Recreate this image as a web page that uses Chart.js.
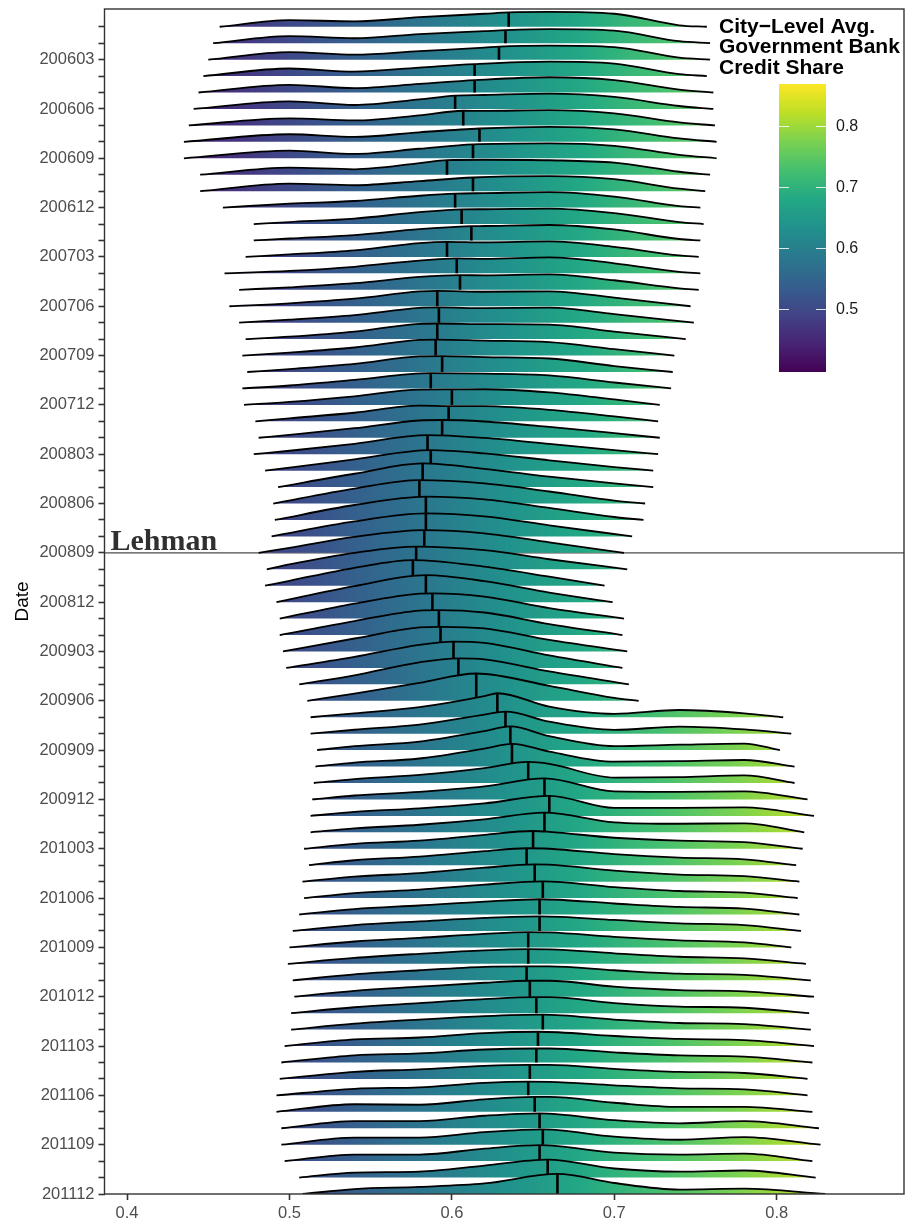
<!DOCTYPE html>
<html>
<head>
<meta charset="utf-8">
<script src="https://cdn.jsdelivr.net/npm/chart.js@4.4.1/dist/chart.umd.min.js"></script>
<style>
  html, body { margin: 0; padding: 0; background: #fff; }
  #wrap { width: 905px; height: 1220px; position: relative; }
</style>
</head>
<body>
<div id="wrap"><canvas id="ridges"></canvas></div>
<script>
// months, top to bottom
const months = [
  '200601','200602','200603','200604','200605','200606','200607','200608','200609','200610','200611','200612',
  '200701','200702','200703','200704','200705','200706','200707','200708','200709','200710','200711','200712',
  '200801','200802','200803','200804','200805','200806','200807','200808','200809','200810','200811','200812',
  '200901','200902','200903','200904','200905','200906','200907','200908','200909','200910','200911','200912',
  '201001','201002','201003','201004','201005','201006','201007','201008','201009','201010','201011','201012',
  '201101','201102','201103','201104','201105','201106','201107','201108','201109','201110','201111','201112'
];
const labelledMonths = [
  '200603','200606','200609','200612','200703','200706','200709','200712','200803','200806','200809','200812',
  '200903','200906','200909','200912','201003','201006','201009','201012','201103','201106','201109','201112'
];
const xTicks = [0.4, 0.5, 0.6, 0.7, 0.8];
const legendTicks = [0.5, 0.6, 0.7, 0.8];
const lehmanMonth = '200809';

// where each density starts and ends
const lowEnd = [
  0.457, 0.453, 0.450, 0.447, 0.444, 0.441, 0.438, 0.435, 0.435, 0.445, 0.445, 0.459,
  0.478, 0.478, 0.473, 0.460, 0.469, 0.463, 0.469, 0.473, 0.471, 0.474, 0.471, 0.472,
  0.479, 0.481, 0.478, 0.485, 0.493, 0.490, 0.491, 0.489, 0.481, 0.486, 0.485, 0.492,
  0.494, 0.494, 0.496, 0.498, 0.506, 0.511, 0.513, 0.513, 0.517, 0.516, 0.515, 0.514,
  0.513, 0.513, 0.509, 0.512, 0.508, 0.509, 0.506, 0.502, 0.500, 0.499, 0.502, 0.503,
  0.501, 0.501, 0.497, 0.495, 0.494, 0.492, 0.492, 0.495, 0.495, 0.497, 0.506, 0.508
];
const highEnd = [
  0.757, 0.759, 0.759, 0.757, 0.761, 0.761, 0.762, 0.763, 0.763, 0.759, 0.756, 0.753,
  0.755, 0.753, 0.752, 0.753, 0.752, 0.747, 0.749, 0.744, 0.737, 0.736, 0.735, 0.728,
  0.727, 0.728, 0.727, 0.724, 0.724, 0.719, 0.718, 0.711, 0.706, 0.708, 0.694, 0.699,
  0.706, 0.705, 0.708, 0.705, 0.709, 0.715, 0.804, 0.809, 0.802, 0.811, 0.811, 0.819,
  0.823, 0.817, 0.816, 0.812, 0.814, 0.813, 0.814, 0.815, 0.809, 0.818, 0.821, 0.823,
  0.820, 0.821, 0.823, 0.822, 0.819, 0.819, 0.822, 0.826, 0.827, 0.822, 0.824, 0.830
];
// median of each month and the density height there (in ridge spacings)
const medianX = [
  0.635, 0.633, 0.629, 0.614, 0.614, 0.602, 0.607, 0.617, 0.613, 0.597, 0.613, 0.602,
  0.606, 0.612, 0.597, 0.603, 0.605, 0.591, 0.592, 0.591, 0.590, 0.594, 0.587, 0.600,
  0.598, 0.594, 0.585, 0.587, 0.582, 0.580, 0.584, 0.584, 0.583, 0.578, 0.576, 0.584,
  0.588, 0.592, 0.593, 0.601, 0.604, 0.615, 0.628, 0.633, 0.636, 0.637, 0.647, 0.657,
  0.660, 0.657, 0.650, 0.646, 0.651, 0.656, 0.654, 0.654, 0.647, 0.647, 0.646, 0.648,
  0.652, 0.656, 0.653, 0.652, 0.648, 0.647, 0.651, 0.654, 0.656, 0.654, 0.659, 0.665
];
const medianHeight = [
  0.87, 0.79, 0.79, 0.73, 0.75, 0.81, 0.89, 0.81, 0.85, 0.89, 0.83, 0.85,
  0.89, 0.87, 0.92, 0.91, 0.89, 0.94, 0.93, 0.95, 0.97, 0.97, 0.93, 0.94,
  0.93, 1.08, 1.16, 1.25, 1.44, 1.42, 1.42, 1.40, 1.38, 1.38, 1.56, 1.64,
  1.54, 1.52, 1.50, 1.60, 1.58, 1.66, 1.46, 1.34, 1.44, 1.38, 1.28, 1.28,
  1.22, 1.20, 1.08, 1.03, 1.05, 1.02, 0.93, 0.89, 0.93, 0.89, 0.85, 0.97,
  0.97, 0.91, 0.87, 0.85, 0.85, 0.83, 0.91, 0.91, 0.93, 0.97, 1.09, 1.22
];

// density heights read at these shares (null = outside that month's range)
const gridX = [0.50, 0.54, 0.58, 0.62, 0.66, 0.70, 0.74, 0.78];
const densityAtGrid = [
  [0.40, 0.33, 0.58, 0.79, 0.90, 0.79, 0.09, null], // 200601
  [0.43, 0.30, 0.55, 0.73, 0.85, 0.76, 0.12, null],
  [0.46, 0.30, 0.52, 0.73, 0.85, 0.76, 0.12, null],
  [0.46, 0.27, 0.52, 0.70, 0.88, 0.76, 0.12, null],
  [0.46, 0.27, 0.52, 0.76, 0.93, 0.76, 0.18, null],
  [0.46, 0.24, 0.58, 0.85, 0.93, 0.73, 0.18, null],
  [0.43, 0.30, 0.61, 0.88, 0.93, 0.73, 0.18, null],
  [0.46, 0.30, 0.58, 0.82, 0.91, 0.76, 0.21, null],
  [0.46, 0.27, 0.58, 0.85, 0.91, 0.76, 0.21, null],
  [0.43, 0.33, 0.70, 0.91, 0.88, 0.73, 0.18, null],
  [0.46, 0.36, 0.61, 0.85, 0.91, 0.73, 0.15, null],
  [0.24, 0.40, 0.72, 0.88, 0.94, 0.67, 0.09, null], // 200612
  [0.12, 0.33, 0.72, 0.90, 0.94, 0.67, 0.12, null],
  [0.12, 0.33, 0.69, 0.88, 0.94, 0.67, 0.09, null],
  [0.15, 0.40, 0.84, 0.88, 0.94, 0.61, 0.09, null],
  [0.15, 0.40, 0.78, 0.88, 0.97, 0.61, 0.09, null],
  [0.15, 0.40, 0.78, 0.88, 0.94, 0.58, 0.09, null],
  [0.18, 0.46, 0.90, 0.88, 0.91, 0.52, 0.06, null],
  [0.18, 0.46, 0.90, 0.88, 0.91, 0.52, 0.06, null],
  [0.15, 0.46, 0.93, 0.91, 0.88, 0.46, null, null],
  [0.18, 0.49, 0.95, 0.91, 0.82, 0.39, null, null],
  [0.18, 0.49, 0.95, 0.91, 0.82, 0.36, null, null],
  [0.18, 0.52, 0.95, 0.90, 0.79, 0.36, null, null],
  [0.18, 0.52, 0.93, 0.95, 0.76, 0.33, null, null], // 200712
  [0.18, 0.52, 0.95, 0.92, 0.70, 0.30, null, null],
  [0.18, 0.58, 1.05, 0.99, 0.66, 0.28, null, null],
  [0.21, 0.63, 1.14, 0.99, 0.63, 0.25, null, null],
  [0.18, 0.69, 1.23, 1.05, 0.63, 0.22, null, null],
  [0.18, 0.81, 1.40, 1.11, 0.63, 0.22, null, null],
  [0.24, 0.91, 1.40, 1.22, 0.73, 0.18, null, null],
  [0.24, 0.91, 1.40, 1.25, 0.73, 0.18, null, null],
  [0.24, 0.91, 1.40, 1.22, 0.67, 0.12, null, null],
  [0.30, 0.97, 1.37, 1.19, 0.64, null, null, null], // 200809
  [0.30, 1.00, 1.37, 1.16, 0.61, 0.09, null, null],
  [0.30, 1.09, 1.55, 1.16, 0.55, null, null, null],
  [0.24, 0.97, 1.61, 1.28, 0.58, null, null, null],
  [0.21, 0.91, 1.52, 1.34, 0.64, null, null, null],
  [0.18, 0.85, 1.49, 1.37, 0.67, null, null, null],
  [0.15, 0.79, 1.46, 1.40, 0.70, 0.09, null, null],
  [0.12, 0.67, 1.40, 1.52, 0.76, null, null, null],
  [null, 0.55, 1.34, 1.52, 0.79, 0.12, null, null],
  [null, 0.43, 1.09, 1.58, 0.91, 0.18, null, null], // 200906
  [null, 0.24, 0.61, 1.28, 0.64, 0.20, 0.44, 0.24],
  [null, 0.24, 0.55, 1.16, 0.73, 0.23, 0.43, 0.26],
  [null, 0.24, 0.52, 1.16, 0.85, 0.24, 0.33, 0.40],
  [null, 0.24, 0.49, 1.09, 0.91, 0.30, 0.33, 0.40],
  [null, 0.24, 0.49, 0.91, 1.16, 0.33, 0.36, 0.46],
  [null, 0.24, 0.46, 0.79, 1.19, 0.49, 0.46, 0.49], // 200912
  [null, 0.24, 0.46, 0.76, 1.19, 0.49, 0.49, 0.52],
  [null, 0.24, 0.46, 0.79, 1.16, 0.61, 0.52, 0.55],
  [null, 0.30, 0.49, 0.85, 1.03, 0.67, 0.49, 0.40],
  [null, 0.30, 0.52, 0.85, 1.00, 0.67, 0.46, 0.36],
  [null, 0.30, 0.52, 0.85, 1.03, 0.67, 0.43, 0.33],
  [null, 0.30, 0.52, 0.82, 1.00, 0.67, 0.43, 0.33],
  [null, 0.33, 0.55, 0.79, 0.91, 0.67, 0.46, 0.36],
  [null, 0.36, 0.58, 0.79, 0.88, 0.67, 0.46, 0.36],
  [null, 0.36, 0.58, 0.82, 0.91, 0.64, 0.43, 0.30],
  [null, 0.36, 0.61, 0.82, 0.88, 0.64, 0.43, 0.33],
  [null, 0.36, 0.61, 0.82, 0.85, 0.61, 0.40, 0.33],
  [null, 0.36, 0.61, 0.85, 0.97, 0.61, 0.40, 0.33], // 201012
  [null, 0.36, 0.61, 0.85, 0.97, 0.61, 0.40, 0.33],
  [null, 0.36, 0.61, 0.82, 0.91, 0.61, 0.40, 0.33],
  [null, 0.40, 0.52, 0.79, 0.87, 0.61, 0.43, 0.36],
  [null, 0.43, 0.55, 0.79, 0.85, 0.61, 0.43, 0.36],
  [null, 0.43, 0.58, 0.79, 0.85, 0.61, 0.43, 0.36],
  [null, 0.40, 0.49, 0.76, 0.82, 0.61, 0.43, 0.36],
  [null, 0.46, 0.43, 0.76, 0.91, 0.55, 0.30, 0.30],
  [null, 0.43, 0.43, 0.76, 0.91, 0.49, 0.30, 0.43],
  [null, 0.43, 0.43, 0.76, 0.91, 0.49, 0.30, 0.46],
  [null, 0.40, 0.40, 0.76, 0.97, 0.52, 0.40, 0.46],
  [null, 0.30, 0.36, 0.73, 1.06, 0.55, 0.36, 0.43],
  [null, 0.30, 0.43, 0.64, 1.16, 0.67, 0.27, 0.33]  // 201112
];

// viridis colour scale limits
const colorMin = 0.397;
const colorMax = 0.869;
const viridis = ['#440154', '#482475', '#414487', '#355f8d', '#2a788e', '#21918c',
                 '#22a884', '#44bf70', '#7ad151', '#bddf26', '#fde725'];

const xMin = 0.3861, xMax = 0.8784;
const nMonths = months.length;
const yTop = 72.08;
const sans = 'Arial, "Liberation Sans", sans-serif';

let gradCache = null;
function viridisFill(context) {
  const chart = context.chart;
  const area = chart.chartArea;
  if (!area || !chart.scales.x) return 'rgba(0,0,0,0)';
  const xs = chart.scales.x;
  const key = area.left + ':' + area.right;
  if (!gradCache || gradCache.key !== key) {
    const g = chart.ctx.createLinearGradient(xs.getPixelForValue(colorMin), 0, xs.getPixelForValue(colorMax), 0);
    viridis.forEach((c, i) => g.addColorStop(i / (viridis.length - 1), c));
    gradCache = {key: key, grad: g};
  }
  return gradCache.grad;
}

const datasets = [];
months.forEach((month, m) => {
  const base = nMonths - 1 - m;
  const lo = lowEnd[m], hi = highEnd[m], med = medianX[m];
  const pts = [{x: lo, y: base}];
  gridX.forEach((gx, k) => {
    const h = densityAtGrid[m][k];
    if (h === null) return;
    if (gx < lo + 0.012 || gx > hi - 0.012) return;
    if (Math.abs(gx - med) < 0.008) return;
    pts.push({x: gx, y: base + h});
  });
  pts.push({x: med, y: base + medianHeight[m]});
  pts.push({x: hi, y: base});
  pts.sort((a, b) => a.x - b.x);

  // median line first so it is painted on top of its own ridge
  datasets.push({
    label: month + ' median',
    data: [{x: med, y: base}, {x: med, y: base + medianHeight[m]}],
    borderColor: '#000',
    borderWidth: 2.6,
    borderCapStyle: 'butt',
    pointRadius: 0,
    fill: false,
    order: base
  });
  datasets.push({
    label: month,
    data: pts,
    borderColor: '#000',
    borderWidth: 1.8,
    pointRadius: 0,
    cubicInterpolationMode: 'monotone',
    fill: {value: base},
    backgroundColor: viridisFill,
    order: base
  });
});

const lehmanY = nMonths - 1 - months.indexOf(lehmanMonth);
datasets.push({
  label: 'Lehman',
  data: [{x: xMin, y: lehmanY}, {x: xMax, y: lehmanY}],
  borderColor: '#4d4d4d',
  borderWidth: 1.2,
  pointRadius: 0,
  fill: false,
  order: 1000
});

const decorPlugin = {
  id: 'decor',
  afterDatasetsDraw(chart) {
    const ctx = chart.ctx;
    const a = chart.chartArea;
    const ys = chart.scales.y;
    ctx.save();
    // Lehman label
    ctx.fillStyle = '#303030';
    ctx.font = 'bold 30px "Liberation Serif", "Times New Roman", serif';
    ctx.textAlign = 'left';
    ctx.textBaseline = 'alphabetic';
    ctx.fillText('Lehman', a.left + 6, ys.getPixelForValue(lehmanY) - 3);

    // panel border
    ctx.strokeStyle = '#333333';
    ctx.lineWidth = 1.4;
    ctx.strokeRect(a.left, a.top, a.right - a.left, a.bottom - a.top);

    // colour bar legend
    const barL = 779, barW = 47, barTop = 84, barBot = 372;
    const grad = ctx.createLinearGradient(0, barBot, 0, barTop);
    viridis.forEach((c, i) => grad.addColorStop(i / (viridis.length - 1), c));
    ctx.fillStyle = grad;
    ctx.fillRect(barL, barTop, barW, barBot - barTop);
    const vy = v => barBot - (v - colorMin) / (colorMax - colorMin) * (barBot - barTop);
    ctx.strokeStyle = 'rgba(255,255,255,0.85)';
    ctx.lineWidth = 1;
    ctx.fillStyle = '#1a1a1a';
    ctx.font = '16px ' + sans;
    ctx.textBaseline = 'middle';
    legendTicks.forEach(v => {
      const y = Math.round(vy(v)) + 0.5;
      ctx.beginPath();
      ctx.moveTo(barL, y); ctx.lineTo(barL + 10, y);
      ctx.moveTo(barL + barW - 10, y); ctx.lineTo(barL + barW, y);
      ctx.stroke();
      ctx.fillText(v.toFixed(1), 836, vy(v));
    });
    ctx.font = 'bold 21px ' + sans;
    ctx.fillStyle = '#000';
    ctx.textBaseline = 'alphabetic';
    ['City\u2212Level Avg.', 'Government Bank', 'Credit Share'].forEach((t, i) => {
      ctx.fillText(t, 719, 32.5 + i * 20.7);
    });
    ctx.restore();
  }
};

new Chart(document.getElementById('ridges'), {
  type: 'line',
  data: {datasets: datasets},
  options: {
    responsive: true,
    maintainAspectRatio: false,
    animation: false,
    events: [],
    layout: {padding: {top: 9, right: 1, left: 0, bottom: 0}},
    plugins: {legend: {display: false}, tooltip: {enabled: false}},
    elements: {line: {borderJoinStyle: 'round'}},
    scales: {
      x: {
        type: 'linear',
        min: xMin,
        max: xMax,
        afterBuildTicks: s => { s.ticks = xTicks.map(v => ({value: v})); },
        afterFit: s => { s.height = 26; s.paddingLeft = 0; s.paddingRight = 0; },
        border: {display: false},
        grid: {drawOnChartArea: false, drawTicks: true, tickLength: 6, tickColor: '#333333', tickWidth: 1.6},
        ticks: {
          color: '#4d4d4d', padding: 4, maxRotation: 0, autoSkip: false,
          font: {family: sans, size: 16.5},
          callback: v => Number(v).toFixed(1)
        }
      },
      y: {
        type: 'linear',
        min: 0,
        max: yTop,
        afterBuildTicks: s => { s.ticks = months.map((_, m) => ({value: nMonths - 1 - m})); },
        afterFit: s => { s.width = 104.5; s.paddingTop = 0; s.paddingBottom = 0; },
        border: {display: false},
        grid: {drawOnChartArea: false, drawTicks: true, tickLength: 6, tickColor: '#333333', tickWidth: 1.6},
        title: {display: true, text: 'Date', color: '#000', font: {family: sans, size: 19}, padding: {top: 11, bottom: 0}},
        ticks: {
          color: '#4d4d4d', padding: 4, autoSkip: false,
          font: {family: sans, size: 16.5},
          callback: v => {
            const mo = months[nMonths - 1 - v];
            return labelledMonths.includes(mo) ? mo : '';
          }
        }
      }
    }
  },
  plugins: [decorPlugin]
});
</script>
</body>
</html>
